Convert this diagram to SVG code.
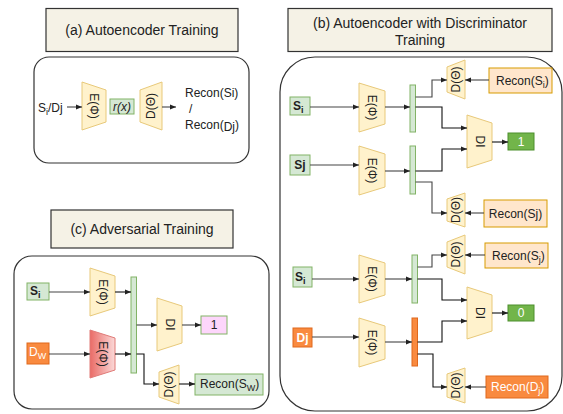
<svg xmlns="http://www.w3.org/2000/svg" width="563" height="414" viewBox="0 0 563 414">
<defs>
<marker id="ah" markerWidth="6" markerHeight="6" refX="6" refY="3" orient="auto" markerUnits="userSpaceOnUse"><path d="M0,0.5 L6,3 L0,5.5 z" fill="#222"/></marker>
<linearGradient id="redg" x1="0" y1="0" x2="1" y2="0"><stop offset="0" stop-color="#ea6b66"/><stop offset="1" stop-color="#fbd9d8"/></linearGradient>
<style>
text{font-family:"Liberation Sans",Arial,sans-serif;fill:#222;}
.title{fill:#f5f2e6;stroke:#333;stroke-width:1.2;}
.tt{font-size:14px;text-anchor:middle;}
.cont{fill:none;stroke:#333;stroke-width:1.2;}
.trap{fill:#fff2cc;stroke:#e8c97a;stroke-width:1;}
.red{fill:url(#redg);stroke:#e07a77;stroke-width:1;}
.gbox{fill:#d5e8d4;stroke:#82b366;stroke-width:1;}
.obox{fill:#ffe6cc;stroke:#d79b00;stroke-width:1;}
.dobox{fill:#f98a3f;stroke:#e0681c;stroke-width:1;}
.dgbox{fill:#72b54a;stroke:#4d8f2c;stroke-width:1;}
.pbox{fill:#fdd6fb;stroke:#82b366;stroke-width:1;}
.lbl{font-size:12px;text-anchor:middle;dominant-baseline:central;}
.w{fill:#fff;}
.b{font-weight:bold;}
.c{fill:none;stroke:#444;stroke-width:1.1;marker-end:url(#ah);}
.cd{fill:none;stroke:#111;stroke-width:1.1;marker-end:url(#ah);}
</style>
</defs>

<!-- Panel (a) -->
<g id="title-a"><rect class="title" x="46" y="8.5" width="192" height="43"/><text class="tt" x="142" y="35">(a) Autoencoder Training</text></g>
<g id="container-a"><rect class="cont" x="34" y="57" width="215" height="106" rx="15"/></g>
<g id="a-input"><text x="38" y="112" font-size="12">S<tspan font-size="9" dy="3">i</tspan><tspan dy="-3">/Dj</tspan></text></g>
<g id="a-enc"><polygon class="trap" points="82,82 106,90 106,122 82,130"/><text class="lbl" transform="translate(94,106) rotate(90)">E(Φ)</text></g>
<g id="a-rx"><rect class="gbox" x="110" y="99" width="24" height="15"/><text class="lbl" x="122" y="106.5" font-style="italic">r(x)</text></g>
<g id="a-dec"><polygon class="trap" points="140,90 162,82 162,130 140,122"/><text class="lbl" transform="translate(151,106) rotate(-90)">D(Θ)</text></g>
<g id="a-out"><text x="185" y="97" font-size="12">Recon(Si)</text><text x="189" y="113" font-size="12">/</text><text x="185" y="129" font-size="12">Recon(<tspan font-size="12" dy="2">Dj</tspan><tspan dy="-2">)</tspan></text></g>

<!-- Panel (b) -->
<g id="title-b"><rect class="title" x="288" y="8.5" width="264" height="43"/><text class="tt" x="420" y="28">(b) Autoencoder with Discriminator</text><text class="tt" x="420" y="45">Training</text></g>
<g id="container-b"><rect class="cont" x="280" y="57" width="282" height="354" rx="35"/></g>

<g id="b-si1"><rect class="gbox" x="290" y="97" width="20" height="18"/><text x="293" y="110" font-size="12" class="b">S<tspan font-size="9" dy="3">i</tspan></text></g>
<g id="b-enc1"><polygon class="trap" points="359,83 385,91 385,124 359,132"/><text class="lbl" transform="translate(372,107.5) rotate(90)">E(Φ)</text></g>
<g id="b-bar1"><rect class="gbox" x="410" y="85" width="5.5" height="47"/></g>
<g id="b-dec1"><polygon class="trap" points="447,67 465,60 465,99 447,92"/><text class="lbl" transform="translate(456,79.5) rotate(-90)">D(Θ)</text></g>
<g id="b-recon1"><rect class="obox" x="489" y="68" width="63" height="25"/><text x="496" y="85" font-size="12">Recon(S<tspan font-size="9" dy="3">i</tspan><tspan dy="-3">)</tspan></text></g>
<g id="b-di1"><polygon class="trap" points="467,115 492,123 492,160 467,168"/><text class="lbl" transform="translate(479.5,141.5) rotate(90)">DI</text></g>
<g id="b-one"><rect class="dgbox" x="508" y="133" width="26" height="17"/><text class="lbl w" x="521" y="141.5">1</text></g>

<g id="b-sj"><rect class="gbox" x="290" y="155" width="20" height="20"/><text class="lbl b" x="300" y="165">Sj</text></g>
<g id="b-enc2"><polygon class="trap" points="359,146 385,154 385,187 359,195"/><text class="lbl" transform="translate(372,170.5) rotate(90)">E(Φ)</text></g>
<g id="b-bar2"><rect class="gbox" x="410" y="146" width="5.5" height="48"/></g>
<g id="b-dec2"><polygon class="trap" points="447,199 465,193 465,227 447,221"/><text class="lbl" transform="translate(456,210) rotate(-90)">D(Θ)</text></g>
<g id="b-recon2"><rect class="obox" x="484" y="200" width="63" height="27"/><text class="lbl" x="515.5" y="213.5">Recon(Sj)</text></g>

<g id="b-dec3"><polygon class="trap" points="447,242 465,235 465,274 447,267"/><text class="lbl" transform="translate(456,254.5) rotate(-90)">D(Θ)</text></g>
<g id="b-recon3"><rect class="obox" x="485" y="243" width="63" height="25"/><text x="492" y="260" font-size="12">Recon(S<tspan font-size="9" dy="3">j</tspan><tspan dy="-3">)</tspan></text></g>
<g id="b-si3"><rect class="gbox" x="293" y="267" width="19" height="20"/><text x="295" y="281" font-size="12" class="b">S<tspan font-size="9" dy="3">i</tspan></text></g>
<g id="b-enc3"><polygon class="trap" points="359,255 385,263 385,295 359,303"/><text class="lbl" transform="translate(372,279) rotate(90)">E(Φ)</text></g>
<g id="b-bar3"><rect class="gbox" x="412" y="255" width="5.5" height="48"/></g>
<g id="b-di2"><polygon class="trap" points="467,287 492,295 492,331 467,339"/><text class="lbl" transform="translate(479.5,313) rotate(90)">DI</text></g>
<g id="b-zero"><rect class="dgbox" x="508" y="305" width="26" height="16"/><text class="lbl w" x="521" y="313">0</text></g>
<g id="b-dj"><rect class="dobox" x="293" y="328" width="19" height="19"/><text class="lbl w b" x="302.5" y="337.5">Dj</text></g>
<g id="b-enc4"><polygon class="trap" points="359,318 385,326 385,359 359,367"/><text class="lbl" transform="translate(372,342.5) rotate(90)">E(Φ)</text></g>
<g id="b-bar4"><rect class="dobox" x="412" y="318" width="5.5" height="48"/></g>
<g id="b-dec4"><polygon class="trap" points="447,374 465,368 465,403 447,397"/><text class="lbl" transform="translate(456,385.5) rotate(-90)">D(Θ)</text></g>
<g id="b-recon4"><rect class="dobox" x="486" y="376" width="62" height="22"/><text x="491" y="391" font-size="12" class="w">Recon(D<tspan font-size="9" dy="3">j</tspan><tspan dy="-3">)</tspan></text></g>

<!-- Panel (c) -->
<g id="title-c"><rect class="title" x="51" y="210" width="182" height="38"/><text class="tt" x="142" y="234">(c) Adversarial Training</text></g>
<g id="container-c"><rect class="cont" x="14" y="256" width="255" height="153" rx="18"/></g>
<g id="c-si"><rect class="gbox" x="27" y="283" width="22" height="17"/><text x="30" y="295" font-size="12" class="b">S<tspan font-size="9" dy="3">i</tspan></text></g>
<g id="c-enc1"><polygon class="trap" points="90,268 115,276 115,308 90,316"/><text class="lbl" transform="translate(102.5,292) rotate(90)">E(Φ)</text></g>
<g id="c-dw"><rect class="dobox" x="27" y="343" width="22" height="21"/><text x="29" y="356" font-size="12" class="w">D<tspan font-size="9" dy="3">W</tspan></text></g>
<g id="c-enc2"><polygon class="red" points="90,330 115,338 115,370 90,378"/><text class="lbl" transform="translate(102.5,354) rotate(90)">E(Φ)</text></g>
<g id="c-bar"><rect class="gbox" x="131" y="277" width="5.5" height="96"/></g>
<g id="c-di"><polygon class="trap" points="157,298 182,306 182,343 157,351"/><text class="lbl" transform="translate(169.5,324.5) rotate(90)">DI</text></g>
<g id="c-one"><rect class="pbox" x="201" y="316" width="26" height="18"/><text class="lbl" x="214" y="325">1</text></g>
<g id="c-dec"><polygon class="trap" points="159,372 179,365 179,404 159,397"/><text class="lbl" transform="translate(169,384.5) rotate(-90)">D(Θ)</text></g>
<g id="c-recon"><rect class="gbox" x="195" y="374" width="68" height="21"/><text x="200" y="388" font-size="12">Recon(S<tspan font-size="9" dy="3">W</tspan><tspan dy="-3">)</tspan></text></g>

<!-- Connectors -->
<g id="connectors">
<path class="c" d="M67,107 L82,107"/>
<path class="c" d="M162,107 L176,107"/>

<path class="c" d="M310,107 L359,107"/>
<path class="c" d="M385,107 L410,107"/>
<path class="c" d="M415.5,97 L432,97 L432,80 L447,80"/>
<path class="c" d="M489,80 L465,80"/>
<path class="cd" d="M415.5,107 L442,107 L442,128 L467,128"/>
<path class="cd" d="M492,142 L508,142"/>

<path class="c" d="M310,165 L359,165"/>
<path class="c" d="M385,171 L410,171"/>
<path class="cd" d="M415.5,171 L442,171 L442,149 L467,149"/>
<path class="c" d="M415.5,182 L432,182 L432,213 L447,213"/>
<path class="c" d="M484,213 L465,213"/>

<path class="c" d="M485,255 L465,255"/>
<path class="c" d="M312,279 L359,279"/>
<path class="c" d="M385,279 L412,279"/>
<path class="c" d="M417.5,267 L432,267 L432,255 L447,255"/>
<path class="cd" d="M417.5,279 L442,279 L442,300 L467,300"/>
<path class="cd" d="M492,313 L508,313"/>
<path class="c" d="M312,337 L359,337"/>
<path class="c" d="M385,342 L412,342"/>
<path class="cd" d="M417.5,342 L442,342 L442,321 L467,321"/>
<path class="cd" d="M417.5,354 L433,354 L433,387 L447,387"/>
<path class="c" d="M486,387 L465,387"/>

<path class="c" d="M49,292 L90,292"/>
<path class="cd" d="M115,292 L131,292"/>
<path class="c" d="M49,354 L90,354"/>
<path class="cd" d="M115,354 L131,354"/>
<path class="c" d="M136.5,325 L157,325"/>
<path class="c" d="M182,325 L201,325"/>
<path class="cd" d="M136.5,354 L144,354 L144,384 L159,384"/>
<path class="cd" d="M179,384 L195,384"/>
</g>
</svg>
